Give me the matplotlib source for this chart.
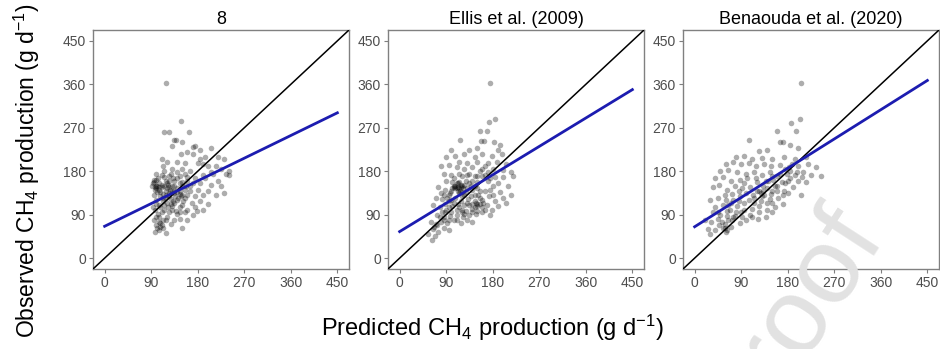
import matplotlib
matplotlib.use('Agg')
import matplotlib.pyplot as plt
import numpy as np

plt.rcParams['font.family'] = ['Liberation Sans', 'DejaVu Sans']
plt.rcParams['mathtext.fontset'] = 'custom'
plt.rcParams['mathtext.rm'] = 'Liberation Sans'
plt.rcParams['mathtext.it'] = 'Liberation Sans:italic'

# panel titles
titles = ['8', 'Ellis et al. (2009)', 'Benaouda et al. (2020)']
ticks = [0, 90, 180, 270, 360, 450]

# regression line read at predicted = 0 and 450
fit_x = [0, 450]
fit_y = [[66, 301], [55, 349], [65, 368]]

# model "8": predicted, observed
pts_8 = [(118, 362), (148, 285), (115, 262), (125, 262), (163, 262), (135, 245), (138, 245), (150, 240),
         (130, 232), (175, 232), (185, 225), (205, 228), (160, 220), (148, 215), (170, 215), (195, 210),
         (220, 210), (230, 205), (110, 205), (120, 200), (140, 200), (155, 198), (180, 198), (190, 195),
         (200, 190), (215, 190), (225, 185), (235, 175), (240, 172), (210, 175), (165, 180), (150, 185),
         (130, 185), (115, 180), (100, 175), (125, 170), (145, 170), (160, 168), (175, 165), (195, 165),
         (220, 160), (205, 152), (185, 155), (170, 155), (150, 158), (135, 160), (118, 160), (95, 158),
         (92, 150), (100, 145), (110, 148), (120, 145), (130, 150), (140, 145), (155, 142), (165, 140),
         (180, 142), (200, 140), (230, 135), (215, 130), (190, 130), (175, 128), (160, 130), (145, 132),
         (125, 135), (108, 138), (96, 130), (112, 125), (128, 122), (140, 120), (152, 118), (168, 115),
         (185, 118), (200, 112), (175, 105), (160, 100), (145, 105), (130, 108), (115, 110), (100, 112),
         (98, 100), (110, 95), (125, 95), (140, 92), (155, 95), (170, 90), (120, 85), (105, 85), (95, 78),
         (108, 72), (100, 68), (112, 62), (105, 58), (98, 55), (118, 52), (150, 62), (135, 80), (145, 82),
         (160, 80), (128, 70), (178, 98), (190, 100), (118, 140), (135, 140), (122, 152), (105, 155),
         (140, 165), (128, 175), (112, 190), (100, 162), (150, 130), (158, 150), (190, 172), (205, 178),
         (240, 180), (225, 150), (185, 205), (170, 230), (100, 120), (93, 105), (108, 105), (150, 110),
         (137, 128), (115, 168), (102, 150), (106, 142), (98, 148), (112, 132), (104, 92), (108, 64),
         (100, 150), (105, 148), (110, 152), (115, 150), (120, 155), (125, 148), (130, 140), (135, 135),
         (140, 138), (145, 140), (125, 128), (118, 130), (112, 118), (120, 115), (128, 112), (135, 115),
         (142, 125), (148, 128), (155, 125), (102, 138), (108, 128), (115, 100), (122, 105), (130, 100),
         (138, 98), (145, 95), (105, 110), (100, 85), (112, 80), (118, 78), (105, 75), (110, 68), (102, 62),
         (98, 142), (94, 155), (96, 162), (104, 165), (110, 172), (132, 165), (140, 178), (155, 175),
         (160, 160), (165, 150), (145, 155), (150, 150), (135, 150), (125, 160), (118, 125), (132, 118),
         (126, 142)]

# Ellis et al. (2009)
pts_ellis = [(175, 362), (185, 288), (172, 281), (156, 263), (168, 263), (116, 244), (158, 242), (164, 242),
             (182, 240), (195, 235), (100, 225), (135, 225), (150, 228), (190, 225), (90, 210), (108, 212),
             (125, 215), (145, 210), (160, 215), (178, 212), (198, 215), (115, 200), (130, 198), (150, 200),
             (170, 198), (188, 200), (205, 195), (80, 190), (95, 192), (110, 188), (125, 185), (140, 188),
             (160, 185), (180, 185), (200, 182), (215, 178), (85, 175), (100, 172), (115, 175), (130, 172),
             (145, 170), (165, 172), (185, 168), (200, 168), (220, 170), (90, 160), (102, 158), (108, 150),
             (112, 148), (118, 152), (110, 145), (116, 140), (122, 145), (135, 155), (150, 158), (170, 160),
             (190, 155), (210, 150), (75, 148), (88, 142), (98, 135), (128, 138), (140, 142), (155, 140),
             (175, 142), (195, 138), (215, 130), (70, 125), (82, 122), (95, 118), (108, 125), (120, 128),
             (132, 122), (145, 118), (160, 120), (172, 128), (185, 118), (200, 125), (65, 110), (78, 105),
             (90, 100), (102, 108), (115, 105), (128, 98), (140, 102), (150, 108), (160, 105), (168, 110),
             (178, 100), (190, 108), (205, 115), (72, 90), (85, 85), (98, 88), (110, 90), (122, 85), (135, 90),
             (148, 92), (160, 95), (175, 90), (60, 75), (70, 70), (80, 75), (92, 72), (105, 78), (118, 72),
             (130, 80), (140, 75), (65, 60), (75, 55), (85, 62), (95, 58), (55, 50), (68, 45), (62, 38),
             (112, 112), (118, 118), (125, 110), (100, 95), (138, 128), (152, 130), (165, 140), (180, 150),
             (128, 160), (105, 165), (95, 130), (150, 170), (170, 178), (120, 100), (88, 112), (112, 155),
             (106, 148), (114, 145), (120, 138), (145, 105), (150, 112), (72, 68), (66, 64),
             (105, 150), (110, 155), (115, 158), (120, 150), (108, 145), (112, 140), (118, 148), (125, 152),
             (102, 145), (100, 140), (115, 135), (125, 130), (130, 145), (138, 150), (145, 150), (150, 145),
             (155, 125), (145, 130), (130, 115), (135, 110), (140, 112), (148, 115), (155, 112), (162, 115),
             (165, 100), (150, 98), (140, 95), (120, 95), (110, 100), (105, 115), (95, 105), (88, 95),
             (82, 95), (78, 85), (85, 80), (95, 80), (110, 80), (125, 92), (100, 120), (92, 125), (85, 130),
             (80, 135), (120, 170), (135, 175), (140, 160), (160, 170), (175, 165), (165, 190), (155, 180),
             (180, 130)]

# Benaouda et al. (2020)
pts_benaouda = [(205, 362), (203, 288), (186, 280), (159, 263), (196, 263), (106, 245), (165, 241), (170, 241),
                (185, 235), (200, 228), (125, 222), (140, 225), (80, 210), (95, 212), (110, 205), (130, 208),
                (150, 205), (172, 210), (195, 205), (215, 210), (60, 195), (75, 200), (90, 195), (105, 198),
                (118, 190), (135, 195), (148, 190), (165, 192), (182, 188), (200, 190), (220, 195), (235, 188),
                (245, 170), (50, 180), (65, 182), (82, 178), (100, 175), (115, 178), (130, 172), (145, 178),
                (160, 170), (178, 175), (195, 172), (210, 178), (225, 172), (40, 165), (55, 168), (70, 160),
                (88, 162), (102, 165), (120, 158), (138, 160), (152, 162), (168, 158), (185, 165), (200, 160),
                (215, 158), (35, 148), (48, 152), (62, 142), (78, 150), (92, 145), (108, 148), (125, 140),
                (140, 145), (155, 150), (172, 140), (190, 148), (205, 130), (30, 120), (45, 125), (58, 130),
                (72, 132), (88, 128), (100, 135), (115, 125), (130, 128), (148, 132), (162, 125), (180, 135),
                (40, 105), (55, 110), (68, 100), (82, 108), (95, 115), (110, 102), (125, 108), (140, 100),
                (155, 105), (170, 112), (35, 95), (50, 90), (62, 98), (78, 88), (92, 85), (108, 90), (122, 82),
                (138, 85), (150, 95), (20, 80), (32, 75), (45, 82), (58, 70), (72, 78), (88, 72), (100, 80),
                (25, 60), (40, 58), (55, 62), (60, 55), (70, 65), (30, 50), (48, 68), (115, 115), (128, 118),
                (145, 122), (135, 130), (160, 140), (175, 155), (185, 180), (150, 115), (118, 165), (95, 155),
                (60, 120), (75, 120), (58, 62), (62, 58), (128, 135), (132, 140),
                (65, 110), (70, 115), (85, 118), (95, 100), (105, 120), (112, 130), (120, 140), (132, 150),
                (142, 160), (150, 170), (165, 175), (175, 185), (188, 195), (198, 178), (208, 168), (180, 160),
                (160, 150), (150, 140), (170, 130), (140, 115), (125, 95), (110, 85), (90, 95), (80, 95),
                (75, 85), (65, 80), (52, 75), (45, 95), (62, 88), (85, 140)]

panels = [pts_8, pts_ellis, pts_benaouda]

fig = plt.figure(figsize=(9.4, 3.49), dpi=100)
lefts = [93, 388, 683]
for i, pts in enumerate(panels):
    ax = fig.add_axes([lefts[i] / 940, 1 - 269 / 349, 256 / 940, 239 / 349])
    xy = np.array(pts)
    ax.scatter(xy[:, 0], xy[:, 1], s=16, color='black', alpha=0.32, linewidths=0, zorder=2)
    ax.axline((0, 0), slope=1, color='black', lw=1.1, zorder=3)
    ax.plot(fit_x, fit_y[i], color='#1c1cb0', lw=2, zorder=4)
    ax.set_xlim(-22.5, 472.5)
    ax.set_ylim(-22.5, 472.5)
    ax.set_xticks(ticks)
    ax.set_yticks(ticks)
    ax.tick_params(colors='#7f7f7f', labelcolor='#4d4d4d', labelsize=10, length=3, width=0.8, pad=2)
    for sp in ax.spines.values():
        sp.set_color('#808080')
        sp.set_linewidth(1)
    ax.set_title(titles[i], fontsize=13, color='black', pad=4)

fig.text(0.029, 0.51, 'Observed CH$_\\mathrm{4}$ production (g d$^\\mathrm{-1}$)', rotation=90,
         ha='center', va='center', fontsize=16.5, color='black')
fig.text(0.524, 0.06, 'Predicted CH$_\\mathrm{4}$ production (g d$^\\mathrm{-1}$)',
         ha='center', va='center', fontsize=17, color='black')

# watermark
fig.text(886 / 940, 1 - 238 / 349, 'Journal Pre-proof', rotation=57, rotation_mode='anchor',
         ha='right', va='baseline', fontsize=78, color='#e2e2e2')

fig.savefig('out.png', dpi=100)
